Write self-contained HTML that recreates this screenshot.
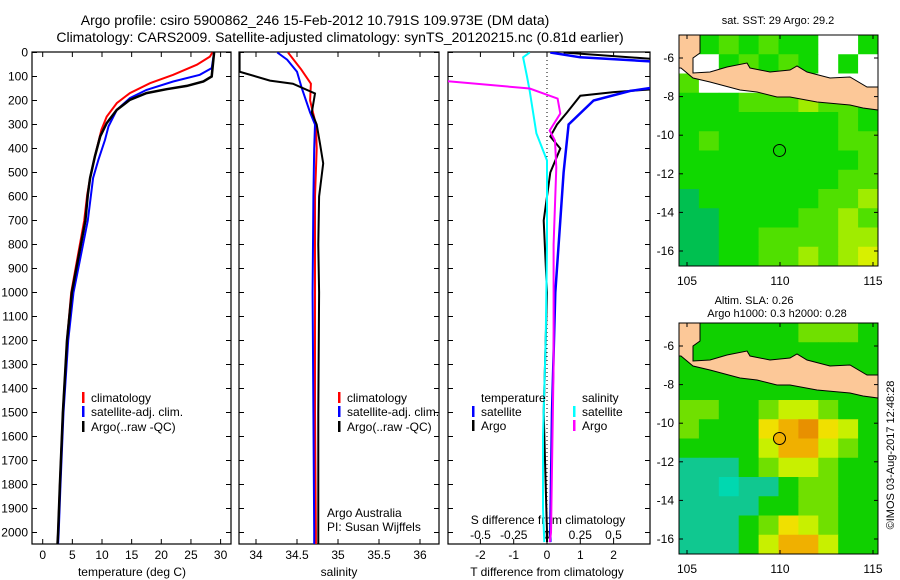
<!DOCTYPE html>
<html><head><meta charset="utf-8"><style>
html,body{margin:0;padding:0;background:#fff;}
svg{display:block;font-family:"Liberation Sans",sans-serif;}
</style></head><body>
<svg id="c" width="900" height="580" viewBox="0 0 900 580"></svg>
<script>
// ---- data ----
const depthTicks=[0,100,200,300,400,500,600,700,800,900,1000,1100,1200,1300,1400,1500,1600,1700,1800,1900,2000];
const tempTicks=[0,5,10,15,20,25,30];
const salTicks=[34,34.5,35,35.5,36];
const salTickLabels=["34","34.5","35","35.5","36"];
const dTTicks=[-2,-1,0,1,2];
const dSTicks=[-0.5,-0.25,0,0.25,0.5];
const dSTickLabels=["-0.5","-0.25","0","0.25","0.5"];
const tArgoD=[0,100,121,139,153,169,197,239,294,350,433,523,593,700,1000,1200,1500,1800,2000,2050];
const tArgo=[28.9,28.5,27.1,24.3,20.9,17.5,14.7,12.5,10.8,9.7,8.8,8.0,7.6,7.2,4.9,4.1,3.4,2.9,2.6,2.5];
const tClimD=[0,17,51,93,128,169,211,267,322,433,523,593,700,1000,1200,1500,1800,2000,2050];
const tClim=[28.6,28.2,26,22,18.1,14.7,12.5,10.8,9.9,8.8,8.0,7.5,7.0,4.8,4.1,3.4,2.9,2.6,2.5];
const tSatD=[0,65,93,121,156,190,239,308,364,447,523,700,1000,1200,1500,1800,2000,2050];
const tSat=[28.9,28.5,26.5,22,17.5,14.7,12.5,11.1,10.5,9.4,8.5,7.6,5.2,4.3,3.5,3.0,2.7,2.6];
const sClimD=[0,70,130,200,300,400,600,1000,1500,2000,2050];
const sClim=[34.39,34.55,34.67,34.66,34.73,34.74,34.72,34.72,34.72,34.73,34.73];
const sSatD=[0,30,80,150,250,300,400,600,1000,1500,2000,2050];
const sSat=[34.26,34.38,34.5,34.56,34.66,34.72,34.71,34.7,34.69,34.7,34.71,34.71];
const sArgoD=[0,80,117,130,171,250,300,380,462,600,800,1000,1500,2000,2050];
const sArgo=[33.8,33.8,34.17,34.45,34.72,34.68,34.74,34.78,34.82,34.77,34.76,34.77,34.76,34.76,34.76];
const dTSatD=[0,20,40,140,160,200,300,500,700,1000,1500,2000,2040];
const dTSat=[0.1,1.0,3.5,3.5,2.5,1.4,0.65,0.5,0.4,0.25,0.15,0.1,0.1];
const dTArgoD=[0,30,150,165,180,250,300,350,400,500,600,700,1000,1500,2000,2040];
const dTArgo=[0.5,3.5,3.5,2.0,1.0,0.6,0.3,0.1,0.4,0.1,0.0,-0.1,0.0,-0.1,0.0,0.0];
const dSArgoD=[0,117,150,192,254,325,367,479,800,1300,2000,2040];
const dSArgo=[-0.8,-0.8,-0.13,0.08,0.1,0.02,0.06,0.07,0.05,0.05,0.03,0.02];
const dSSatD=[0,20,100,160,337,450,800,1200,1600,1900,2040];
const dSSat=[-0.13,-0.18,-0.15,-0.13,-0.08,0,0,-0.01,-0.03,-0.03,-0.02];
const lonTicks=[105,110,115];
const latTicks=[-6,-8,-10,-12,-14,-16];
const sstRows=["2232322ww2","ww23232w2w","3wwwwwwwww","2223334332","2222222232","2322222233","2222222223","2222222233","1222222334","1122223343","1122333344","1122334345"];
const slaRows=["2222223332","2222222222","2222222222","2222222222","3322344322","3222567542","2222466432","1112344322","1101123322","1111223322","1112354322","1112466422"];
// ---- helpers ----
const NS="http://www.w3.org/2000/svg";
const svg=document.getElementById('c');
function el(t,a,p){const e=document.createElementNS(NS,t);for(const k in a)e.setAttribute(k,a[k]);(p||svg).appendChild(e);return e;}
function txt(x,y,s,a,p){const e=el('text',Object.assign({x:x,y:y,'font-size':12,fill:'#000'},a||{}),p);e.textContent=s;return e;}
const yD=d=>52.5+d*0.24;
const xT=t=>42.7+t*5.93;
const xS=s=>256+(s-34)*82;
const xDT=t=>547+t*33.3;
const xDS=s=>547+s*133;
// titles
let t=txt(315,25,"Argo profile: csiro 5900862_246 15-Feb-2012 10.791S 109.973E (DM data)",{'font-size':14,'text-anchor':'middle'});

t=txt(340,42,"Climatology: CARS2009. Satellite-adjusted climatology: synTS_20120215.nc (0.81d earlier)",{'font-size':14,'text-anchor':'middle'});

// panels
const panels=[[32,231,'temperature-panel'],[239,439,'salinity-panel'],[448,650,'difference-panel']];
panels.forEach(([x0,x1,n])=>{
  const g=el('g',{});
  
  
  el('defs',{},g).innerHTML=`<clipPath id="cl-${n}"><rect x="${x0}" y="52" width="${x1-x0}" height="492"/></clipPath>`;
  depthTicks.forEach(d=>{el('line',{x1:x0,x2:x0+5,y1:yD(d),y2:yD(d),stroke:'#000'},g);el('line',{x1:x1-5,x2:x1,y1:yD(d),y2:yD(d),stroke:'#000'},g);});
  el('rect',{x:x0,y:52,width:x1-x0,height:492,fill:'none',stroke:'#000','stroke-width':1.2},g);
});
depthTicks.forEach(d=>{const e=txt(28,yD(d)+4,String(d),{'text-anchor':'end'});});
function xticks(vals,labels,fx,ly,top){vals.forEach((v,i)=>{const x=fx(v);el('line',{x1:x,x2:x,y1:539,y2:544,stroke:'#000'});if(top)el('line',{x1:x,x2:x,y1:52,y2:57,stroke:'#000'});const e=txt(x,ly,labels[i],{'text-anchor':'middle'});});}
xticks(tempTicks,tempTicks.map(String),xT,559,true);
xticks(salTicks,salTickLabels,xS,559,true);
xticks(dTTicks,dTTicks.map(String),xDT,559,true);
dSTicks.forEach((v,i)=>{const e=txt(xDS(v),539,dSTickLabels[i],{'text-anchor':'middle'});});
t=txt(548,524,"S difference from climatology",{'text-anchor':'middle'});
t=txt(132,576,"temperature (deg C)",{'text-anchor':'middle'});
t=txt(339,576,"salinity",{'text-anchor':'middle'});
t=txt(547,576,"T difference from climatology",{'text-anchor':'middle'});
t=el('line',{x1:547,x2:547,y1:52,y2:544,stroke:'#000','stroke-dasharray':'1,3'});
function line(ds,vs,fx,color,w,clip,name){const pts=ds.map((d,i)=>fx(vs[i]).toFixed(1)+','+yD(d).toFixed(1)).join(' ');const e=el('polyline',{points:pts,fill:'none',stroke:color,'stroke-width':w,'clip-path':`url(#cl-${clip})`});}
line(tClimD,tClim,xT,'#f00',2,'temperature-panel','temp-climatology-line');
line(tSatD,tSat,xT,'#00f',2,'temperature-panel','temp-satellite-line');
line(tArgoD,tArgo,xT,'#000',2.5,'temperature-panel','temp-argo-line');
line(sClimD,sClim,xS,'#f00',2,'salinity-panel','sal-climatology-line');
line(sSatD,sSat,xS,'#00f',2,'salinity-panel','sal-satellite-line');
line(sArgoD,sArgo,xS,'#000',2,'salinity-panel','sal-argo-line');
line(dTArgoD,dTArgo,xDT,'#000',2,'difference-panel','t-diff-argo-line');
line(dTSatD,dTSat,xDT,'#00f',2.5,'difference-panel','t-diff-satellite-line');
line(dSSatD,dSSat,xDS,'#0ff',2,'difference-panel','s-diff-satellite-line');
line(dSArgoD,dSArgo,xDS,'#f0f',2,'difference-panel','s-diff-argo-line');
// legends
function leg(x,y,c,s,n){const r=el('rect',{x:x,y:y-10,width:2.5,height:11,fill:c});const e=txt(x+9,y,s);}
[[82,'temperature-legend'],[338,'salinity-legend']].forEach(([x,n])=>{leg(x,402,'#f00','climatology',n+'-climatology');leg(x,416,'#00f','satellite-adj. clim.',n+'-satellite');leg(x,431,'#000','Argo(..raw -QC)',n+'-argo');});
t=txt(481,402,'temperature');
t=txt(582,402,'salinity');
leg(472,416,'#00f','satellite','legend-t-satellite');leg(472,430,'#000','Argo','legend-t-argo');
leg(573,416,'#0ff','satellite','legend-s-satellite');leg(573,430,'#f0f','Argo','legend-s-argo');
t=txt(327,517,'Argo Australia');
t=txt(327,531,'PI: Susan Wijffels');
// maps
const sstCol={'0':'#00b080','1':'#00c050','2':'#10d800','3':'#50e000','4':'#a0ec00','5':'#d8f000','6':'#f0c000','7':'#e89000','w':'#fff'};
const slaCol={'0':'#00d8b0','1':'#10c890','2':'#10d000','3':'#70e000','4':'#c8f000','5':'#f0e000','6':'#f0b000','7':'#e89000','w':'#fff'};
const lonX=l=>687+(l-105)*18.6;
function drawMap(y0,rows,cols,name,circleFill){
  const g=el('g',{});
  
  
  const latY=l=>y0+23+(-6-l)*19.3;
  const cw=(878-679)/10,ch=(231)/12;
  rows.forEach((r,i)=>{[...r].forEach((c,j)=>{const e=el('rect',{x:679+j*cw,y:y0+i*ch,width:cw+0.5,height:ch+0.5,fill:cols[c]},g);});});
  const off=y0-35;
  const land=[[679,35],[700,35],[700,53],[693,58],[693,73],[710,72],[727,67],[747,63],[750,68],[770,72],[790,70],[797,66],[807,72],[830,78],[850,77],[867,87],[878,87],[878,110],[863,108],[850,105],[817,102],[790,97],[777,97],[757,92],[740,90],[710,82],[693,78],[681,68],[679,68]];
  const lp=el('polygon',{points:land.map(p=>p[0]+','+(p[1]+off)).join(' '),fill:'#fcc898',stroke:'#000','stroke-width':1},g);
  
  el('rect',{x:679,y:y0,width:199,height:231,fill:'none',stroke:'#000'},g);
  lonTicks.forEach(l=>{el('line',{x1:lonX(l),x2:lonX(l),y1:y0,y2:y0+4,stroke:'#000'},g);el('line',{x1:lonX(l),x2:lonX(l),y1:y0+227,y2:y0+231,stroke:'#000'},g);const e=txt(lonX(l),y0+250,String(l),{'text-anchor':'middle'},g);});
  latTicks.forEach(l=>{el('line',{x1:679,x2:683,y1:latY(l),y2:latY(l),stroke:'#000'},g);el('line',{x1:874,x2:878,y1:latY(l),y2:latY(l),stroke:'#000'},g);const e=txt(674,latY(l)+4,String(l),{'text-anchor':'end'},g);});
  const c=el('circle',{cx:lonX(109.973),cy:latY(-10.791),r:6,fill:circleFill,stroke:'#000'},g);
  
}
drawMap(35,sstRows,sstCol,'sst-map','none');
drawMap(323,slaRows,slaCol,'sla-map','#f0b000');
t=txt(778,24,'sat. SST: 29 Argo: 29.2',{'text-anchor':'middle','font-size':11});
t=txt(754,304,'Altim. SLA: 0.26',{'text-anchor':'middle','font-size':11});
t=txt(777,317,'Argo h1000: 0.3 h2000: 0.28',{'text-anchor':'middle','font-size':11});
t=txt(0,0,'©IMOS 03-Aug-2017 12:48:28',{'text-anchor':'middle','font-size':11,transform:'translate(894,455) rotate(-90)'});
</script>
</body></html>
